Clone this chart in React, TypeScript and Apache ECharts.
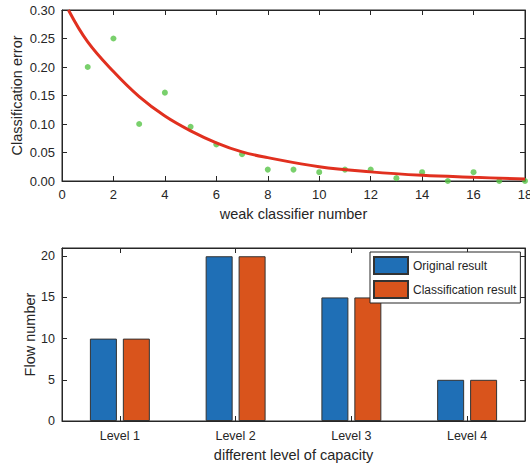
import React, { useEffect, useRef } from "react";
import * as echarts from "echarts";

// Top chart: classification error per weak classifier count
const classifierNumbers = [1, 2, 3, 4, 5, 6, 7, 8, 9, 10, 11, 12, 13, 14, 15, 16, 17, 18];
const errorValues = [0.2, 0.25, 0.1, 0.155, 0.095, 0.064, 0.047, 0.02, 0.02, 0.0155, 0.02, 0.02, 0.005, 0.0155, 0.0, 0.0155, 0.0, 0.0];
// fitted curve
const fitX = [0.25, 1, 2, 3, 4, 5, 6, 7, 8, 10, 12, 14, 16, 18];
const fitY = [0.3, 0.244, 0.192, 0.148, 0.114, 0.088, 0.067, 0.051, 0.041, 0.025, 0.016, 0.01, 0.0065, 0.0035];

// Bottom chart
const levels = ["Level 1", "Level 2", "Level 3", "Level 4"];
const originalResult = [10, 20, 15, 5];
const classificationResult = [10, 20, 15, 5];

const FONT = "'Liberation Sans', Arial, Helvetica, sans-serif";
const AX = "#262626";

export default function App() {
  const ref = useRef<HTMLDivElement>(null);
  useEffect(() => {
    const chart = echarts.init(ref.current!, undefined, { renderer: "svg" });
    const lineStyle = { color: AX, width: 1 };
    const axisLine = { show: true, onZero: false, lineStyle };
    const tickIn = { show: true, inside: true, length: 5, lineStyle };
    const gridBase = {
      show: true,
      borderColor: AX,
      borderWidth: 1,
      backgroundColor: "transparent",
      containLabel: false,
      outerBoundsMode: "none",
    };
    chart.setOption({
      animation: false,
      textStyle: { fontFamily: FONT },
      grid: [
        { ...gridBase, left: 62, top: 10, width: 463, height: 171 },
        { ...gridBase, left: 62, top: 248, width: 463, height: 173 },
      ],
      legend: {
        data: ["Original result", "Classification result"],
        orient: "vertical",
        left: 370,
        top: 252,
        padding: [4, 4, 4, 3],
        itemGap: 5,
        itemWidth: 34,
        itemHeight: 17,
        backgroundColor: "#fff",
        borderColor: AX,
        borderWidth: 1,
        borderRadius: 0,
        icon: "rect",
        textStyle: { fontSize: 12, color: AX, fontFamily: FONT },
      },
      xAxis: [
        {
          type: "value",
          gridIndex: 0,
          min: 0,
          max: 18,
          interval: 2,
          position: "bottom",
          name: "weak classifier number",
          nameLocation: "middle",
          nameGap: 25,
          nameTextStyle: { fontSize: 14.5, color: AX, fontFamily: FONT },
          axisLine,
          axisTick: tickIn,
          axisLabel: { fontSize: 13, color: AX, margin: 7, fontFamily: FONT },
          splitLine: { show: false },
        },
        {
          type: "value",
          gridIndex: 0,
          min: 0,
          max: 18,
          interval: 2,
          position: "top",
          axisLine,
          axisTick: tickIn,
          axisLabel: { show: false },
          splitLine: { show: false },
        },
        {
          type: "category",
          gridIndex: 1,
          data: levels,
          position: "bottom",
          name: "different level of capacity",
          nameLocation: "middle",
          nameGap: 26,
          nameTextStyle: { fontSize: 14.5, color: AX, fontFamily: FONT },
          axisLine,
          axisTick: { ...tickIn, alignWithLabel: true },
          axisLabel: { fontSize: 12.5, color: AX, margin: 8, fontFamily: FONT },
          splitLine: { show: false },
        },
        {
          type: "category",
          gridIndex: 1,
          data: levels,
          position: "top",
          axisLine,
          axisTick: { ...tickIn, alignWithLabel: true },
          axisLabel: { show: false },
          splitLine: { show: false },
        },
      ],
      yAxis: [
        {
          type: "value",
          gridIndex: 0,
          min: 0,
          max: 0.3,
          interval: 0.05,
          position: "left",
          name: "Classification error",
          nameLocation: "middle",
          nameGap: 38,
          nameMoveOverlap: false,
          nameTextStyle: { fontSize: 14.5, color: AX, fontFamily: FONT },
          axisLine,
          axisTick: tickIn,
          axisLabel: {
            fontSize: 13,
            color: AX,
            margin: 7,
            fontFamily: FONT,
            formatter: (v: number) => v.toFixed(2),
          },
          splitLine: { show: false },
        },
        {
          type: "value",
          gridIndex: 0,
          min: 0,
          max: 0.3,
          interval: 0.05,
          position: "right",
          axisLine,
          axisTick: tickIn,
          axisLabel: { show: false },
          splitLine: { show: false },
        },
        {
          type: "value",
          gridIndex: 1,
          min: 0,
          max: 21,
          interval: 5,
          position: "left",
          name: "Flow number",
          nameLocation: "middle",
          nameGap: 25,
          nameMoveOverlap: false,
          nameTextStyle: { fontSize: 14.5, color: AX, fontFamily: FONT },
          axisLine,
          axisTick: tickIn,
          axisLabel: { fontSize: 12.5, color: AX, margin: 7, fontFamily: FONT, showMaxLabel: false },
          splitLine: { show: false },
        },
        {
          type: "value",
          gridIndex: 1,
          min: 0,
          max: 21,
          interval: 5,
          position: "right",
          axisLine,
          axisTick: tickIn,
          axisLabel: { show: false },
          splitLine: { show: false },
        },
      ],
      series: [
        {
          type: "scatter",
          xAxisIndex: 0,
          yAxisIndex: 0,
          data: classifierNumbers.map((x, i) => [x, errorValues[i]]),
          symbolSize: 6,
          itemStyle: { color: "#58c447" },
          z: 3,
        },
        {
          type: "line",
          xAxisIndex: 0,
          yAxisIndex: 0,
          data: fitX.map((x, i) => [x, fitY[i]]),
          smooth: 0.4,
          showSymbol: false,
          symbol: "none",
          lineStyle: { color: "#e1301f", width: 3 },
          clip: true,
          z: 4,
        },
        {
          type: "bar",
          name: "Original result",
          xAxisIndex: 2,
          yAxisIndex: 2,
          data: originalResult,
          barWidth: 27,
          barGap: "22%",
          itemStyle: { color: "#1f6fb6", borderColor: "#333", borderWidth: 1 },
        },
        {
          type: "bar",
          name: "Classification result",
          xAxisIndex: 2,
          yAxisIndex: 2,
          data: classificationResult,
          barWidth: 27,
          barGap: "22%",
          itemStyle: { color: "#d9541c", borderColor: "#333", borderWidth: 1 },
        },
      ],
    });
    return () => chart.dispose();
  }, []);
  return (
    <div
      ref={ref}
      style={{ position: "fixed", left: 0, top: 0, width: 530, height: 466, background: "#fff" }}
    />
  );
}
